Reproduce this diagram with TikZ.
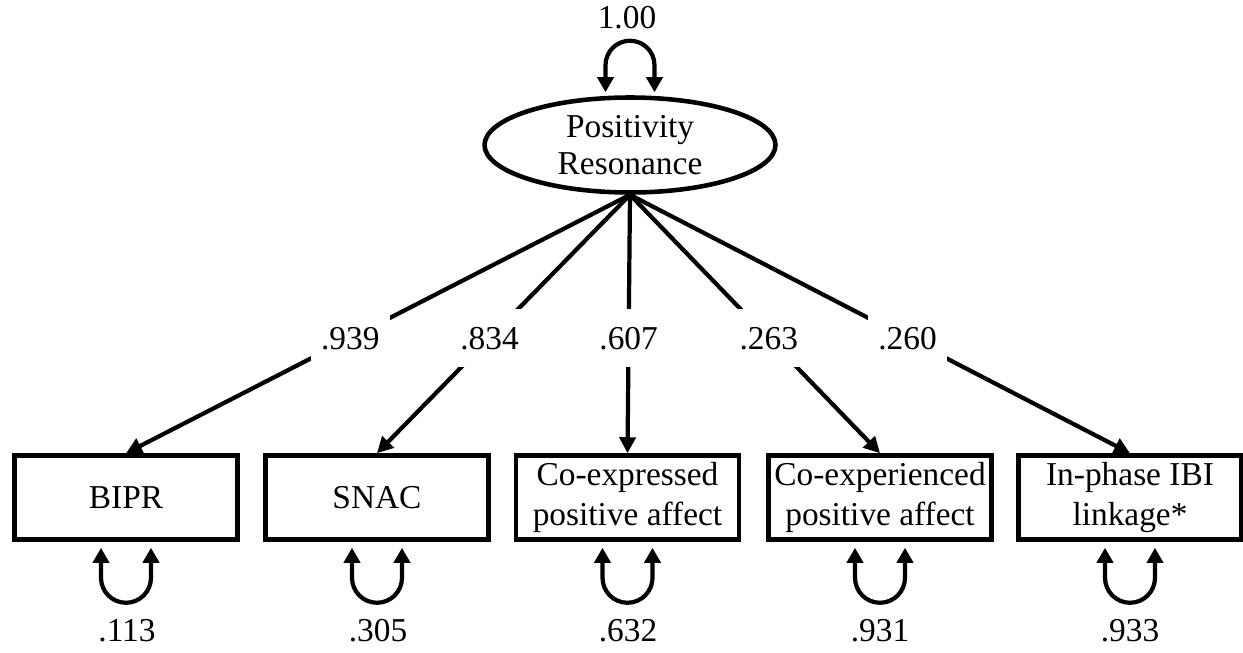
\documentclass[tikz,border=0pt]{standalone}
\usepackage{fontspec}
\setmainfont{Liberation Serif}
\usetikzlibrary{arrows.meta,positioning,shapes.geometric,calc}

\begin{document}
\begin{tikzpicture}[x=0.02cm,y=-0.02cm,
    every node/.style={font=\fontsize{19}{21}\selectfont},
    latent/.style={draw, ellipse, line width=2.6pt, minimum width=5.82cm, minimum height=1.9cm, inner sep=0pt, align=center},
    observed/.style={draw, rectangle, line width=2.6pt, minimum width=4.46cm, minimum height=1.68cm, inner sep=1pt, align=center, font=\fontsize{19}{22.5}\selectfont},
    loading/.style={line width=2.4pt, -{Triangle[length=0.32cm,width=0.32cm]}},
    varloop/.style={line width=2.4pt, {Triangle[length=0.3cm,width=0.32cm]}-{Triangle[length=0.3cm,width=0.32cm]}},
    lbl/.style={fill=white, inner xsep=6pt, inner ysep=10pt}]

            \useasboundingbox (0,0) rectangle (1243,652);

            % latent factor
            \node[latent] (pr) at (630,145) {Positivity\\Resonance};
            \draw[varloop] ($(pr.north)+(-24.5,-3)$) -- ++(0,-27) arc[start angle=180, end angle=0, radius=0.49cm] -- ++(0,27);
            \node (pr var) at (627,18) {1.00};

            % indicators
            \node[observed] (bipr) at (126,497.5) {BIPR};
            \node[observed] (snac) at (377,497.5) {SNAC};
            \node[observed] (coexp) at (627.5,497.5) {Co-expressed\\positive affect};
            \node[observed] (coexper) at (880,497.5) {Co-experienced\\positive affect};
            \node[observed] (ibi) at (1130,497.5) {In-phase IBI\\linkage*};

            % loadings
            \draw[loading] (pr.south) -- node[lbl, pos=0.555] (l1) {.939} (bipr.north);
            \draw[loading] (pr.south) -- node[lbl, pos=0.555] (l2) {.834} (snac.north);
            \draw[loading] (pr.south) -- node[lbl, pos=0.555] (l3) {.607} (coexp.north);
            \draw[loading] (pr.south) -- node[lbl, pos=0.555] (l4) {.263} (coexper.north);
            \draw[loading] (pr.south) -- node[lbl, pos=0.555] (l5) {.260} (ibi.north);

            % residual variances
            \draw[varloop] ($(bipr.south)+(-25,6)$) -- ++(0,30) arc[start angle=180, end angle=360, radius=0.5cm] -- ++(0,-30);
            \draw[varloop] ($(snac.south)+(-25,6)$) -- ++(0,30) arc[start angle=180, end angle=360, radius=0.5cm] -- ++(0,-30);
            \draw[varloop] ($(coexp.south)+(-25,6)$) -- ++(0,30) arc[start angle=180, end angle=360, radius=0.5cm] -- ++(0,-30);
            \draw[varloop] ($(coexper.south)+(-25,6)$) -- ++(0,30) arc[start angle=180, end angle=360, radius=0.5cm] -- ++(0,-30);
            \draw[varloop] ($(ibi.south)+(-25,6)$) -- ++(0,30) arc[start angle=180, end angle=360, radius=0.5cm] -- ++(0,-30);
            \node (bipr var) at (127,631) {.113};
            \node (snac var) at (378,631) {.305};
            \node (coexp var) at (628,631) {.632};
            \node (coexper var) at (880,631) {.931};
            \node (ibi var) at (1130,631) {.933};
        \end{tikzpicture}
\end{document}
